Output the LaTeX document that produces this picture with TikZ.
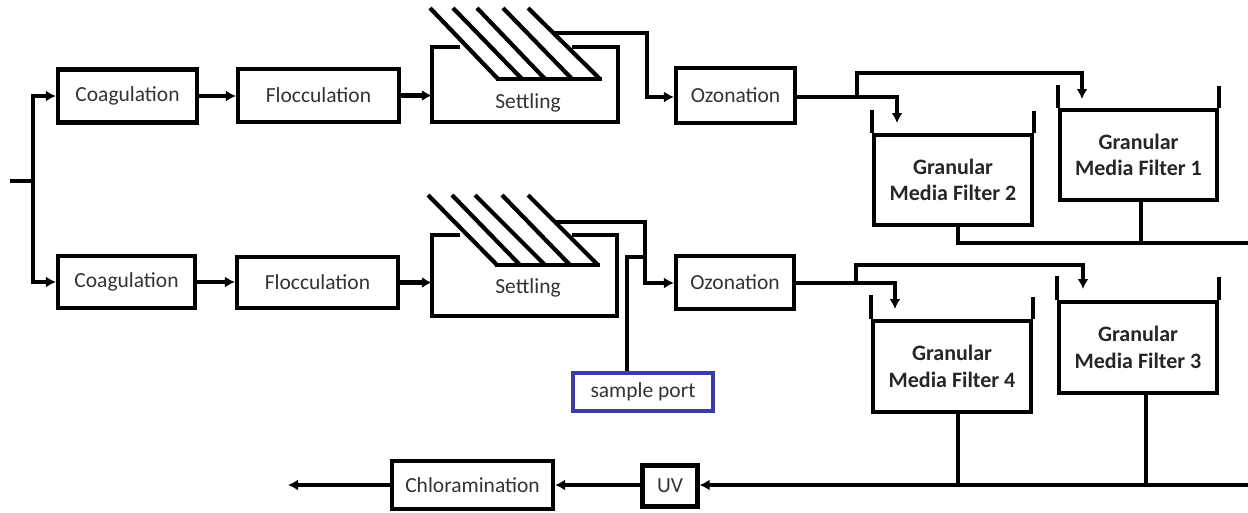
\documentclass[tikz,border=0pt]{standalone}
\usepackage{fontspec}
\setmainfont{Carlito}
\usetikzlibrary{arrows.meta,calc}
\definecolor{txt}{HTML}{333333}
\definecolor{portblue}{HTML}{3C3CA8}
\tikzset{
  pipe/.style={line width=4.2pt,black},
  flow/.style={pipe,-{Latex[length=10pt,width=11pt]}},
  box/.style={draw,line width=4.2pt,rectangle,inner sep=0pt,font=\fontsize{21.5}{25}\selectfont,text=txt},
  tank/.style={draw,line width=4.2pt,rectangle,inner sep=0pt,align=center,font=\fontsize{22}{26.5}\selectfont\bfseries,text=black!85},
  lbl/.style={font=\fontsize{21.5}{25}\selectfont,text=txt,inner sep=0pt},
  ghost/.style={rectangle,inner sep=0pt,draw=none}
}
\begin{document}
\begin{tikzpicture}[x=1pt,y=-1pt]
\useasboundingbox (0,0) rectangle (1248,512);

% ---------- top line ----------
\node[box,minimum width=139pt,minimum height=53pt] (coag1) at (127.5,96) {Coagulation};
\node[box,minimum width=161pt,minimum height=53pt] (floc1) at (318.5,95.5) {Flocculation};
\node[ghost,minimum width=186pt,minimum height=75pt] (set1) at (525,84.5) {};
\node[lbl] (set1t) at (528,103) {Settling};
\node[box,minimum width=119pt,minimum height=55pt] (oz1) at (735.5,95.5) {Ozonation};
\node[tank,minimum width=158pt,minimum height=90pt] (f2) at (953,180) {Granular\\Media Filter 2};
\node[tank,minimum width=157pt,minimum height=90pt] (f1) at (1138.5,155) {Granular\\Media Filter 1};

% ---------- bottom line ----------
\node[box,minimum width=137pt,minimum height=52pt] (coag2) at (126.5,282) {Coagulation};
\node[box,minimum width=161pt,minimum height=51pt] (floc2) at (317.5,282.5) {Flocculation};
\node[ghost,minimum width=185pt,minimum height=81pt] (set2) at (524.5,275.5) {};
\node[lbl] (set2t) at (528,288) {Settling};
\node[box,minimum width=118pt,minimum height=53pt] (oz2) at (735,282.5) {Ozonation};
\node[tank,minimum width=158pt,minimum height=91pt] (f4) at (952,366.5) {Granular\\Media Filter 4};
\node[tank,minimum width=158pt,minimum height=91pt] (f3) at (1138,347.5) {Granular\\Media Filter 3};

\node[box,draw=portblue,line width=3.4pt,minimum width=140pt,minimum height=38pt] (sp) at (643,392) {sample port};
\node[box,minimum width=55pt,minimum height=41pt] (uv) at (670,486) {UV};
\node[box,minimum width=161pt,minimum height=48pt] (chl) at (472.5,485) {Chloramination};

% ---------- settling tanks outlines and plates ----------
\draw[pipe] (460,47) -| (set1.south west) -- (set1.south east) |- (572,47);
\foreach \a/\b in {430/498,453/522,477/545,503/572,528/600}
  \draw[pipe] (\a,8) -- (\b,79);
\draw[pipe] (496,79) -- (602,79);

\draw[pipe] (460,235) -| (set2.south west) -- (set2.south east) |- (572,235);
\foreach \a/\b in {428/497,452/520,475/545,502/570,528/598}
  \draw[pipe] (\a,195) -- (\b,265);
\draw[pipe] (495,265) -- (600,265);

% ---------- tank walls ----------
\draw[pipe] (f2.north west) -- ++(0,-23);
\draw[pipe] (f2.north east) -- ++(0,-22);
\draw[pipe] (f1.north west) -- ++(0,-23);
\draw[pipe] (f1.north east) -- ++(0,-22);
\draw[pipe] (f4.north west) -- ++(0,-24);
\draw[pipe] (f4.north east) -- ++(0,-22);
\draw[pipe] (f3.north west) -- ++(0,-24);
\draw[pipe] (f3.north east) -- ++(0,-23);

% ---------- inlet ----------
\coordinate (in) at (10,181);
\coordinate (bus) at (33,181);
\draw[pipe] (in) -- (bus);
\draw[flow] (bus) |- (coag1.west);
\draw[flow] (bus) |- (coag2.west);

% ---------- top flow ----------
\draw[flow] (coag1.east) -- (floc1.west |- coag1.east);
\draw[flow] (floc1.east) -- (set1.west |- floc1.east);
\coordinate (o1) at (555,33);
\draw[flow] (o1) -- (647,33) -- (647,97) -- (oz1.west |- 0,97);
\coordinate (j1) at (857,97);
\draw[pipe] (oz1.east |- j1) -- (j1);
\draw[flow] (j1) -- (897,97) -- (897,123);
\draw[flow] (j1) -- (857,73) -- (1082,73) -- (1082,99);
\coordinate (c1) at (1248,243);
\draw[pipe] (f2.south -| 958,0) -- (958,243) -- (c1);
\draw[pipe] (f1.south -| 1141,0) -- (1141,243);

% ---------- bottom flow ----------
\draw[flow] (coag2.east) -- (floc2.west |- coag2.east);
\draw[flow] (floc2.east) -- (set2.west |- floc2.east);
\coordinate (o2) at (555,222);
\draw[flow] (o2) -- (645,222) -- (645,283) -- (oz2.west |- 0,283);
\draw[pipe] (sp.north -| 627,0) -- (627,257) -- (645,257);
\coordinate (j2) at (856,283);
\draw[pipe] (oz2.east |- j2) -- (j2);
\draw[flow] (j2) -- (895,283) -- (895,309);
\draw[flow] (j2) -- (856,265) -- (1083,265) -- (1083,289);
\coordinate (c2) at (1248,485);
\draw[pipe] (f4.south -| 958,0) -- (958,485);
\draw[pipe] (f3.south -| 1146,0) -- (1146,485);

% ---------- final treatment ----------
\draw[flow] (c2) -- (uv.east |- c2);
\draw[flow] (uv.west |- c2) -- (chl.east |- c2);
\coordinate (out) at (288,485);
\draw[flow] (chl.west |- c2) -- (out);
\end{tikzpicture}
\end{document}
